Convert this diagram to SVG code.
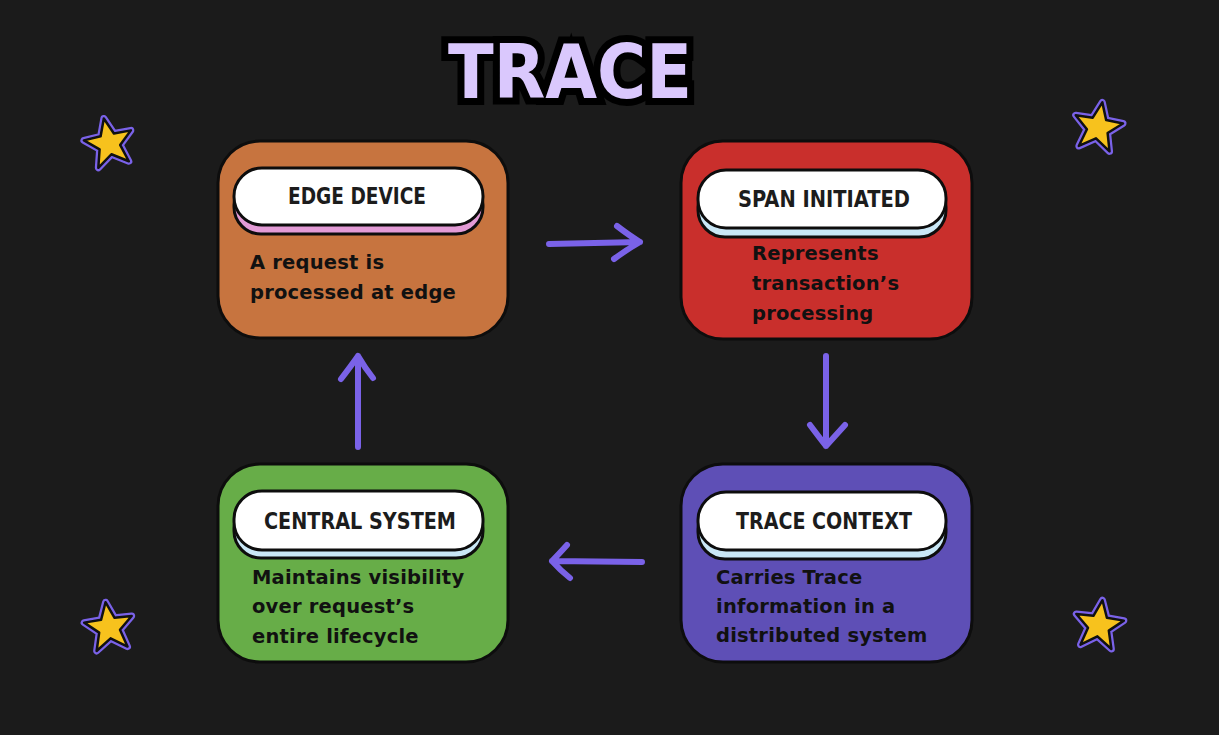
<svg xmlns="http://www.w3.org/2000/svg" width="1219" height="735" viewBox="0 0 1219 735">
<defs>
<style>
.box{stroke:#0d0d0d;stroke-width:3}
.pill{fill:#fff;stroke:#0d0d0d;stroke-width:3}
.sh{stroke:#0d0d0d;stroke-width:3}
.hd{font-family:"DejaVu Sans",sans-serif;font-stretch:condensed;font-weight:bold;font-size:23px;fill:#1c1c1c;text-anchor:middle}
.bd{font-family:"DejaVu Sans",sans-serif;font-weight:bold;font-size:19.5px;fill:#111;letter-spacing:0.2px}
.arr{fill:none;stroke:#7a62e8;stroke-width:6;stroke-linecap:round;stroke-linejoin:round}
.star{fill:#f7c21d;stroke:#111;stroke-width:2.5;stroke-linejoin:round}
.starg{fill:none;stroke:#7a62e8;stroke-width:7;stroke-linejoin:round}
</style>
<path id="st" d="M0,-25 L6.8,-8.3 L24,-7.8 L10.5,4.2 L15.6,22 L0,11.5 L-15.6,22 L-10.5,4.2 L-24,-7.8 L-6.8,-8.3 Z"/>
</defs>
<rect width="1219" height="735" fill="#1b1b1b"/>
<g id="title">
<text x="570" y="98" font-family="DejaVu Sans, sans-serif" font-stretch="condensed" font-weight="bold" font-size="74" text-anchor="middle" textLength="244" lengthAdjust="spacingAndGlyphs" fill="#dac8fd" stroke="#000" stroke-width="14" stroke-linejoin="miter" paint-order="stroke">TRACE</text>
</g>
<g id="stars">
<g transform="translate(109,143) rotate(-12)"><use href="#st" class="starg"/><use href="#st" class="star"/></g>
<g transform="translate(1098,127) rotate(10)"><use href="#st" class="starg"/><use href="#st" class="star"/></g>
<g transform="translate(109,627) rotate(-8)"><use href="#st" class="starg"/><use href="#st" class="star"/></g>
<g transform="translate(1099,625) rotate(8)"><use href="#st" class="starg"/><use href="#st" class="star"/></g>
</g>
<g id="edge-device">
<rect class="box" x="218" y="141" width="290" height="197" rx="42" fill="#c7743f"/>
<rect class="sh" x="234" y="178" width="249" height="56" rx="27" fill="#e39bd6"/>
<rect class="pill" x="234" y="168" width="249" height="57" rx="28"/>
<text class="hd" x="357" y="204" textLength="138" lengthAdjust="spacingAndGlyphs">EDGE DEVICE</text>
<text class="bd" x="250" y="269">A request is</text>
<text class="bd" x="250" y="299">processed at edge</text>
</g>
<g id="span-initiated">
<rect class="box" x="681" y="141" width="291" height="198" rx="42" fill="#c92f2c"/>
<rect class="sh" x="698" y="180" width="248" height="57" rx="27" fill="#c9e7f6"/>
<rect class="pill" x="698" y="170" width="248" height="58" rx="28"/>
<text class="hd" x="824" y="207" textLength="172" lengthAdjust="spacingAndGlyphs">SPAN INITIATED</text>
<text class="bd" x="752" y="260">Represents</text>
<text class="bd" x="752" y="290">transaction’s</text>
<text class="bd" x="752" y="320">processing</text>
</g>
<g id="central-system">
<rect class="box" x="218" y="464" width="290" height="198" rx="42" fill="#67ad48"/>
<rect class="sh" x="234" y="501" width="249" height="57" rx="27" fill="#c9e7f6"/>
<rect class="pill" x="234" y="491" width="249" height="59" rx="28"/>
<text class="hd" x="360" y="529" textLength="192" lengthAdjust="spacingAndGlyphs">CENTRAL SYSTEM</text>
<text class="bd" x="252" y="584">Maintains visibility</text>
<text class="bd" x="252" y="613">over request’s</text>
<text class="bd" x="252" y="643">entire lifecycle</text>
</g>
<g id="trace-context">
<rect class="box" x="681" y="464" width="291" height="198" rx="42" fill="#5e4fb6"/>
<rect class="sh" x="698" y="502" width="248" height="57" rx="27" fill="#c9e7f6"/>
<rect class="pill" x="698" y="492" width="248" height="58" rx="28"/>
<text class="hd" x="824" y="529" textLength="176" lengthAdjust="spacingAndGlyphs">TRACE CONTEXT</text>
<text class="bd" x="716" y="584">Carries Trace</text>
<text class="bd" x="716" y="613">information in a</text>
<text class="bd" x="716" y="642">distributed system</text>
</g>
<g id="connectors">
<path class="arr" d="M549,244 L640,242 M617,226 Q630,236 640,242 Q626,250 614,259"/>
<path class="arr" d="M826,356 L826,446 M810,425 Q819,437 826,446 Q836,435 845,425"/>
<path class="arr" d="M642,562 L552,561 M567,545 Q558,555 552,561 Q560,570 570,578"/>
<path class="arr" d="M358,447 L358,356 M341,379 Q351,366 358,356 Q365,368 373,378"/>
</g>
</svg>
